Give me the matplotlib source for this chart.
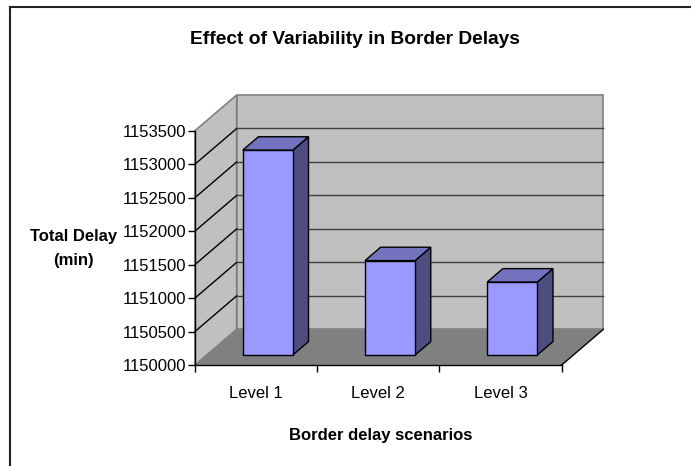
import matplotlib
matplotlib.use("Agg")
import matplotlib.pyplot as plt
from matplotlib.patches import Polygon
from matplotlib.lines import Line2D
import numpy as np

categories = ["Level 1", "Level 2", "Level 3"]
values = [1153060, 1151410, 1151090]
ymin, ymax, ystep = 1150000, 1153500, 500
title = "Effect of Variability in Border Delays"
xlabel = "Border delay scenarios"
ylabel = "Total Delay\n(min)"

plt.rcParams['font.family'] = ["Liberation Sans", 'DejaVu Sans']

W, H = 691, 466
fig = plt.figure(figsize=(W / 100, H / 100), dpi=100)
ax = fig.add_axes([195 / W, 101 / H, 366.7 / W, 234.3 / H])
ax.set_xlim(0, len(categories))
ax.set_ylim(ymin, ymax)
ax.patch.set_visible(False)

# oblique depth projection (in data units)
DX = 0.341
DY = 533.0


def P(x, y, z):
    return (x + z * DX, y + z * DY)


n = len(categories)
wall_c = "#c0c0c0"
floor_c = "#808080"
# side wall
ax.add_patch(Polygon([P(0, ymin, 0), P(0, ymax, 0), P(0, ymax, 1), P(0, ymin, 1)],
                     closed=True, fc=wall_c, ec="#808080", lw=1.2, clip_on=False, zorder=1))
# back wall
ax.add_patch(Polygon([P(0, ymin, 1), P(0, ymax, 1), P(n, ymax, 1), P(n, ymin, 1)],
                     closed=True, fc=wall_c, ec="#808080", lw=1.2, clip_on=False, zorder=1))
# floor
ax.add_patch(Polygon([P(0, ymin, 0), P(n, ymin, 0), P(n, ymin, 1), P(0, ymin, 1)],
                     closed=True, fc=floor_c, ec="none", clip_on=False, zorder=1.1))
ax.add_line(Line2D(*zip(P(n, ymin, 0), P(n, ymin, 1)), color="black", lw=1.0,
                   clip_on=False, zorder=1.2))

# gridlines
ticks = np.arange(ymin, ymax + 1, ystep)
for t in ticks[1:-1]:
    a, b = P(0, t, 0), P(0, t, 1)
    ax.add_line(Line2D([a[0], b[0]], [a[1], b[1]], color="black", lw=1.0, clip_on=False, zorder=1.3))
    a, b = P(0, t, 1), P(n, t, 1)
    ax.add_line(Line2D([a[0], b[0]], [a[1], b[1]], color="#404040", lw=1.0, clip_on=False, zorder=1.3))

# bars
z0, z1 = 0.28, 0.656
bw = 0.41
front_c, top_c, side_c = "#9999ff", "#7373c0", "#4d4d80"
for i, v in enumerate(values):
    c = i + 0.5
    x0, x1 = c - bw / 2, c + bw / 2
    kw = dict(closed=True, ec="black", lw=1.0, clip_on=False, zorder=3)
    ax.add_patch(Polygon([P(x1, ymin, z0), P(x1, v, z0), P(x1, v, z1), P(x1, ymin, z1)], fc=side_c, **kw))
    ax.add_patch(Polygon([P(x0, v, z0), P(x1, v, z0), P(x1, v, z1), P(x0, v, z1)], fc=top_c, **kw))
    ax.add_patch(Polygon([P(x0, ymin, z0), P(x1, ymin, z0), P(x1, v, z0), P(x0, v, z0)], fc=front_c, **kw))

# axes
for s in ["top", "right"]:
    ax.spines[s].set_visible(False)
for s in ["left", "bottom"]:
    ax.spines[s].set_color("black")
    ax.spines[s].set_linewidth(1.0)
    ax.spines[s].set_zorder(4)
ax.set_yticks(ticks)
ax.set_yticklabels([str(int(t)) for t in ticks], fontsize=12)
ax.tick_params(axis="y", direction="out", length=5, width=1, pad=1)
ax.set_xticks(range(n + 1))
ax.set_xticklabels([""] * (n + 1))
ax.set_xticks([i + 0.5 for i in range(n)], minor=True)
ax.set_xticklabels(categories, minor=True, fontsize=12)
ax.tick_params(axis="x", which="major", direction="out", length=5, width=1)
ax.tick_params(axis="x", which="minor", length=0, pad=15)

fig.text(355 / W, 1 - 40 / H, title, ha="center", va="center", fontsize=13.8, fontweight="bold")
fig.text(381 / W, 1 - 435.5 / H, xlabel, ha="center", va="center", fontsize=12, fontweight="bold")
fig.text(73.5 / W, 1 - 248 / H, ylabel, ha="center", va="center", fontsize=12, fontweight="bold",
         linespacing=1.75)

# chart border (top and left)
fig.add_artist(Line2D([9.5 / W, 1], [1 - 6.5 / H, 1 - 6.5 / H], color="#222222", lw=1.5))
fig.add_artist(Line2D([10 / W, 10 / W], [0, 1 - 6.5 / H], color="#222222", lw=1.5))

fig.savefig("out.png", dpi=100)
